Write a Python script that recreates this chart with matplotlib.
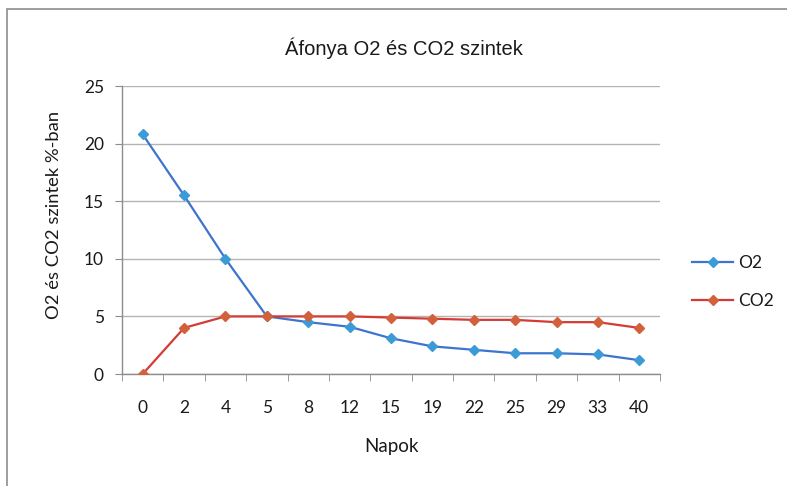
import matplotlib
matplotlib.use('Agg')
import matplotlib.pyplot as plt
import numpy as np
from matplotlib.patches import Rectangle

# data
days = ['0', '2', '4', '5', '8', '12', '15', '19', '22', '25', '29', '33', '40']
o2 = [20.8, 15.5, 10.0, 5.0, 4.5, 4.1, 3.1, 2.4, 2.1, 1.8, 1.8, 1.7, 1.2]
co2 = [0.0, 4.0, 5.0, 5.0, 5.0, 5.0, 4.9, 4.8, 4.7, 4.7, 4.5, 4.5, 4.0]
y_ticks = [0, 5, 10, 15, 20, 25]

# colours
O2_LINE = '#3D74CE'
O2_MARK = '#3B9BD6'
CO2_LINE = '#D43B35'
CO2_MARK = '#D2603A'
GRID = '#B4B4B4'
AXIS = '#8C8C8C'
TXT = '#1A1A1A'
TICK_FONT = ['Lato', 'DejaVu Sans']

fig = plt.figure(figsize=(7.87, 4.86), dpi=100)
fig.patch.set_facecolor('white')

# chart frame
fig.add_artist(Rectangle((7 / 787, -0.1), 1.2, 1.1 - 9 / 486,
                         transform=fig.transFigure, fill=False,
                         edgecolor='#8C8C8C', linewidth=1.2))

ax = fig.add_axes([122 / 787, 1 - 374 / 486, (660 - 122) / 787, (374 - 86) / 486])
x = np.arange(len(days))

ax.plot(x, o2, color=O2_LINE, linewidth=1.6, marker='D', markersize=5.5,
        markerfacecolor=O2_MARK, markeredgecolor=O2_MARK, label='O2', zorder=3)
ax.plot(x, co2, color=CO2_LINE, linewidth=1.6, marker='D', markersize=5.5,
        markerfacecolor=CO2_MARK, markeredgecolor=CO2_MARK, label='CO2', zorder=3)

ax.set_xlim(-0.5, len(days) - 0.5)
ax.set_ylim(0, 25)
ax.set_yticks(y_ticks)
ax.set_xticks(x)
ax.set_xticklabels(days)
ax.set_xticks(np.arange(-0.5, len(days)), minor=True)
ax.tick_params(axis='x', which='major', length=0, pad=19, labelsize=12.5, labelcolor=TXT)
ax.tick_params(axis='x', which='minor', length=5, color=AXIS, direction='out')
ax.tick_params(axis='y', length=5, color=AXIS, pad=8, labelsize=12.5, labelcolor=TXT)
for lbl in ax.get_xticklabels() + ax.get_yticklabels():
    lbl.set_family(TICK_FONT)

ax.grid(axis='y', color=GRID, linewidth=1.0)
ax.set_axisbelow(True)
for side in ('top', 'right'):
    ax.spines[side].set_visible(False)
for side in ('left', 'bottom'):
    ax.spines[side].set_color(AXIS)
    ax.spines[side].set_linewidth(1.0)

ax.set_title('Áfonya O2 és CO2 szintek', fontsize=14.5, color=TXT,
             family=['Liberation Sans', 'DejaVu Sans'], pad=22,
             x=0.5 + 13 / 538)
ax.set_xlabel('Napok', fontsize=13.5, color=TXT, family=TICK_FONT)
ax.xaxis.set_label_coords(0.5, -(438 - 374) / 288)
ax.set_ylabel('O2 és CO2 szintek %-ban', fontsize=13.2, color=TXT, family=TICK_FONT)
ax.yaxis.set_label_coords(-(122 - 62) / 538, (374 - 215) / 288)

leg = ax.legend(loc='center left', bbox_to_anchor=(1.046, 0.32), frameon=False,
                prop={'family': TICK_FONT, 'size': 12.5}, handlelength=2.4,
                labelspacing=1.25, handletextpad=0.3, borderaxespad=0)
for t in leg.get_texts():
    t.set_color(TXT)

fig.savefig('out.png', dpi=100, facecolor='white')
